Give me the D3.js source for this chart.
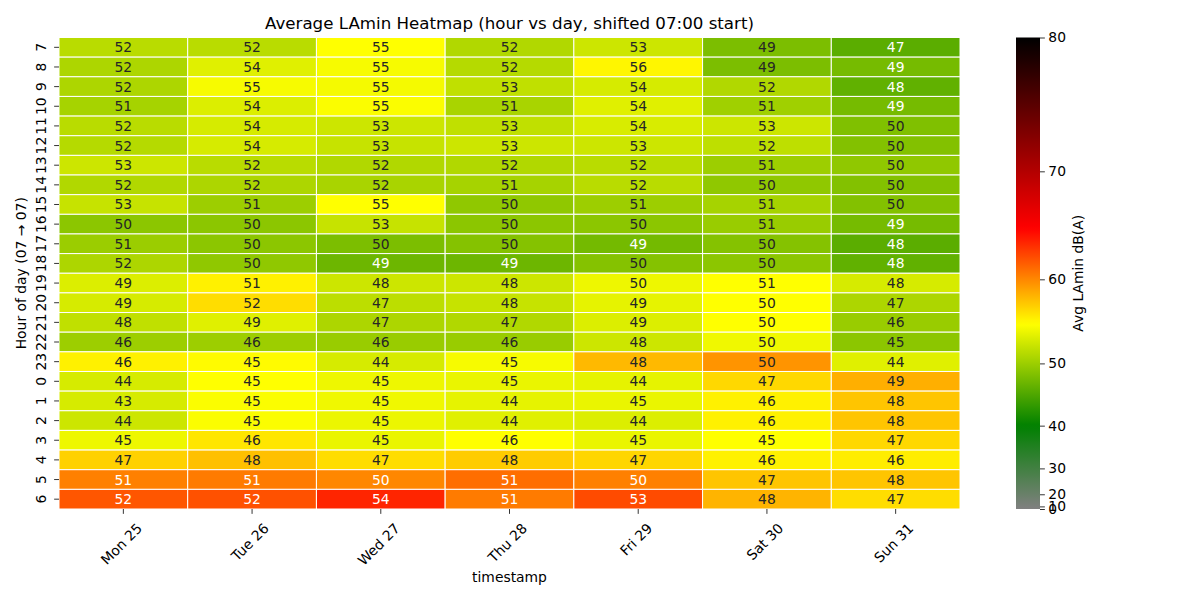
<!DOCTYPE html>
<html>
<head>
<meta charset="utf-8">
<script src="https://cdn.jsdelivr.net/npm/d3@7"></script>
<style>
body { margin: 0; background: #fff; }
text { font-family: "DejaVu Sans", sans-serif; }
</style>
</head>
<body>
<svg id="chart" width="1200" height="600"></svg>
<script>
// columns / rows
const days = ["Mon 25", "Tue 26", "Wed 27", "Thu 28", "Fri 29", "Sat 30", "Sun 31"];
const hours = [7, 8, 9, 10, 11, 12, 13, 14, 15, 16, 17, 18, 19, 20, 21, 22, 23, 0, 1, 2, 3, 4, 5, 6];

// numbers written in the cells
const cellLabels = [
  [52, 52, 55, 52, 53, 49, 47],
  [52, 54, 55, 52, 56, 49, 49],
  [52, 55, 55, 53, 54, 52, 48],
  [51, 54, 55, 51, 54, 51, 49],
  [52, 54, 53, 53, 54, 53, 50],
  [52, 54, 53, 53, 53, 52, 50],
  [53, 52, 52, 52, 52, 51, 50],
  [52, 52, 52, 51, 52, 50, 50],
  [53, 51, 55, 50, 51, 51, 50],
  [50, 50, 53, 50, 50, 51, 49],
  [51, 50, 50, 50, 49, 50, 48],
  [52, 50, 49, 49, 50, 50, 48],
  [49, 51, 48, 48, 50, 51, 48],
  [49, 52, 47, 48, 49, 50, 47],
  [48, 49, 47, 47, 49, 50, 46],
  [46, 46, 46, 46, 48, 50, 45],
  [46, 45, 44, 45, 48, 50, 44],
  [44, 45, 45, 45, 44, 47, 49],
  [43, 45, 45, 44, 45, 46, 48],
  [44, 45, 45, 44, 44, 46, 48],
  [45, 46, 45, 46, 45, 45, 47],
  [47, 48, 47, 48, 47, 46, 46],
  [51, 51, 50, 51, 50, 47, 48],
  [52, 52, 54, 51, 53, 48, 47]
];

// level behind each cell colour (read against the colour bar)
const cellLevels = [
  [51.5, 51.5, 55.0, 51.1, 52.5, 48.2, 46.2],
  [50.9, 53.5, 54.6, 51.3, 55.4, 48.2, 47.8],
  [50.9, 54.6, 54.5, 51.9, 53.0, 51.1, 46.6],
  [50.5, 53.3, 54.8, 50.7, 53.5, 50.2, 47.8],
  [51.5, 53.0, 52.5, 51.9, 53.1, 52.5, 48.4],
  [51.3, 53.0, 52.2, 52.5, 52.5, 51.8, 48.6],
  [52.5, 51.5, 51.1, 51.1, 51.5, 50.0, 49.3],
  [51.1, 50.9, 50.7, 50.5, 51.5, 49.3, 48.6],
  [52.2, 50.0, 55.0, 49.3, 50.0, 50.5, 48.6],
  [49.1, 49.1, 52.2, 49.1, 49.1, 49.8, 47.8],
  [49.9, 49.1, 48.2, 48.7, 47.7, 48.7, 46.2],
  [50.9, 49.3, 47.3, 47.3, 48.7, 49.1, 46.6],
  [53.3, 55.6, 52.5, 52.5, 54.2, 55.0, 53.0],
  [53.0, 56.5, 51.7, 52.2, 53.8, 55.0, 50.9],
  [51.9, 53.5, 50.9, 51.1, 53.3, 55.0, 49.8],
  [50.0, 50.0, 49.8, 49.8, 52.5, 54.3, 49.1],
  [55.6, 55.2, 53.0, 54.6, 58.0, 59.5, 53.5],
  [53.0, 55.0, 54.2, 54.0, 53.8, 56.7, 58.4],
  [53.0, 54.8, 54.3, 53.8, 54.0, 55.6, 57.5],
  [52.5, 54.8, 54.1, 53.5, 53.3, 55.6, 57.5],
  [54.2, 56.1, 54.0, 55.0, 54.0, 55.0, 56.7],
  [57.0, 57.7, 56.5, 57.2, 56.8, 55.6, 55.8],
  [60.3, 60.5, 60.0, 61.0, 60.3, 57.5, 57.5],
  [61.9, 62.1, 63.7, 60.5, 62.3, 58.2, 56.5]
];

const cbTicks = [0, 10, 20, 30, 40, 50, 60, 70, 80];
const cmapLevels = [0, 40, 55, 65, 80];
const cmapColors = ["#808080", "#008000", "#ffff00", "#ff0000", "#000000"];

const svg = d3.select("#chart");
const plotLeft = 59, plotRight = 960, plotTop = 37.5, plotBottom = 509;
const tickLen = 4.86, tickPad = 4.86;
const fs = "13.89px";

const x = d3.scaleBand().domain(days).range([plotLeft, plotRight]);
const y = d3.scaleBand().domain(hours).range([plotTop, plotBottom]);

// power norm, gamma 2.5
const norm = d3.scalePow().exponent(2.5).domain([0, 80]).range([0, 1]);
const cmap = d3.scaleLinear()
    .domain(cmapLevels.map(norm))
    .range(cmapColors)
    .interpolate(d3.interpolateRgb);
const color = v => cmap(norm(v));

function lum(c) {
  const rgb = d3.rgb(c);
  const ch = [rgb.r, rgb.g, rgb.b].map(v => {
    v = v / 255;
    return v <= 0.03928 ? v / 12.92 : Math.pow((v + 0.055) / 1.055, 2.4);
  });
  return 0.2126 * ch[0] + 0.7152 * ch[1] + 0.0722 * ch[2];
}

const cells = [];
hours.forEach((h, i) => {
  days.forEach((d, j) => {
    cells.push({ hour: h, day: d, label: cellLabels[i][j], level: cellLevels[i][j] });
  });
});

// cells
svg.append("g")
  .selectAll("rect")
  .data(cells)
  .enter().append("rect")
    .attr("x", d => x(d.day))
    .attr("y", d => y(d.hour))
    .attr("width", x.bandwidth())
    .attr("height", y.bandwidth())
    .attr("fill", d => color(d.level))
    .attr("stroke", "#fff")
    .attr("stroke-width", 1);

// cell annotations
svg.append("g")
  .selectAll("text")
  .data(cells)
  .enter().append("text")
    .attr("x", d => x(d.day) + x.bandwidth() / 2)
    .attr("y", d => y(d.hour) + y.bandwidth() / 2)
    .attr("dy", "0.36em")
    .attr("text-anchor", "middle")
    .style("font-size", fs)
    .attr("fill", d => lum(color(d.level)) > 0.408 ? "#262626" : "#ffffff")
    .text(d => d.label);

// x axis
const xAxis = svg.append("g")
    .attr("transform", "translate(0," + plotBottom + ")")
    .call(d3.axisBottom(x).tickSize(tickLen).tickPadding(tickPad));
xAxis.select(".domain").remove();
xAxis.selectAll("line").attr("stroke", "#000").attr("stroke-width", 0.8);
xAxis.selectAll("text")
    .style("font-size", fs)
    .style("font-family", "DejaVu Sans, sans-serif")
    .attr("fill", "#000")
    .each(function() {
      const w = this.getComputedTextLength();
      const half = (w + 16) * 0.7071 / 2;
      d3.select(this)
        .attr("y", 0).attr("dy", "0.35em")
        .attr("text-anchor", "middle")
        .attr("transform", "translate(-2," + (tickLen + tickPad + half + 1.5) + ") rotate(-45)");
    });

// y axis
const yAxis = svg.append("g")
    .attr("transform", "translate(" + plotLeft + ",0)")
    .call(d3.axisLeft(y).tickSize(tickLen).tickPadding(tickPad));
yAxis.select(".domain").remove();
yAxis.selectAll("line").attr("stroke", "#000").attr("stroke-width", 0.8);
yAxis.selectAll("text")
    .style("font-size", fs)
    .style("font-family", "DejaVu Sans, sans-serif")
    .attr("fill", "#000")
    .attr("x", 0).attr("dy", "0.36em")
    .attr("text-anchor", "middle")
    .attr("transform", "translate(" + (-(tickLen + tickPad + 8)) + ",0) rotate(-90)");

// titles
svg.append("text")
    .attr("x", (plotLeft + plotRight) / 2)
    .attr("y", 29)
    .attr("text-anchor", "middle")
    .style("font-size", "16.67px")
    .text("Average LAmin Heatmap (hour vs day, shifted 07:00 start)");

svg.append("text")
    .attr("x", (plotLeft + plotRight) / 2)
    .attr("y", 582)
    .attr("text-anchor", "middle")
    .style("font-size", fs)
    .text("timestamp");

svg.append("text")
    .attr("transform", "translate(21," + (plotTop + plotBottom) / 2 + ") rotate(-90)")
    .attr("dy", "0.36em")
    .attr("text-anchor", "middle")
    .style("font-size", fs)
    .text("Hour of day (07 \u2192 07)");

// colour bar
const cbX = 1016, cbW = 24;
const cbScale = d3.scalePow().exponent(2.5).domain([0, 80]).range([plotBottom, plotTop]);

const grad = svg.append("defs").append("linearGradient")
    .attr("id", "cbGrad")
    .attr("x1", 0).attr("y1", 1).attr("x2", 0).attr("y2", 0);
grad.selectAll("stop")
  .data(d3.range(0, 1.0001, 0.01))
  .enter().append("stop")
    .attr("offset", d => d)
    .attr("stop-color", d => cmap(d));

svg.append("rect")
    .attr("x", cbX).attr("y", plotTop)
    .attr("width", cbW).attr("height", plotBottom - plotTop)
    .attr("fill", "url(#cbGrad)");

const cbAxis = svg.append("g")
    .attr("transform", "translate(" + (cbX + cbW) + ",0)")
    .call(d3.axisRight(cbScale).tickValues(cbTicks).tickFormat(d3.format("d"))
      .tickSize(tickLen).tickPadding(3.5));
cbAxis.select(".domain").remove();
cbAxis.selectAll("line").attr("stroke", "#000").attr("stroke-width", 0.8);
cbAxis.selectAll("text")
    .style("font-size", fs)
    .style("font-family", "DejaVu Sans, sans-serif")
    .attr("fill", "#000");

svg.append("text")
    .attr("transform", "translate(1078," + (plotTop + plotBottom) / 2 + ") rotate(-90)")
    .attr("dy", "0.36em")
    .attr("text-anchor", "middle")
    .style("font-size", fs)
    .text("Avg LAmin dB(A)");
</script>
</body>
</html>
